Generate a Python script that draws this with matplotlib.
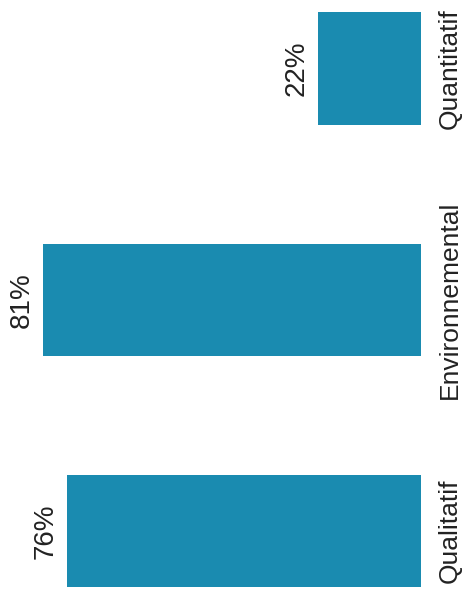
import matplotlib.pyplot as plt

categories = ["Qualitatif", "Environnemental", "Quantitatif"]
values = [76, 81, 22]
labels = ["76%", "81%", "22%"]

plt.rcParams['font.family'] = ['Liberation Sans', 'DejaVu Sans']

fig = plt.figure(figsize=(4.64, 6.03), dpi=100)
ax = fig.add_axes([0, 0, 421 / 464, 1])

ax.barh(range(len(categories)), values, height=0.485, color='#1a8bb0')

# chart is scanned sideways: bars grow right to left, text turned 90 degrees
ax.set_xlim(90.3, 0)
ax.set_ylim(-0.311, 2.296)

for i, (v, lab) in enumerate(zip(values, labels)):
    ax.text(v + 4.6, i, lab, rotation=90, ha='center', va='center',
            fontsize=20, color='#222222')

for i, cat in enumerate(categories):
    ax.text(1.068, i, cat, transform=ax.get_yaxis_transform(), rotation=90,
            ha='center', va='center', fontsize=19, color='#222222', clip_on=False)

ax.axis('off')
fig.savefig('out.png', dpi=100)
